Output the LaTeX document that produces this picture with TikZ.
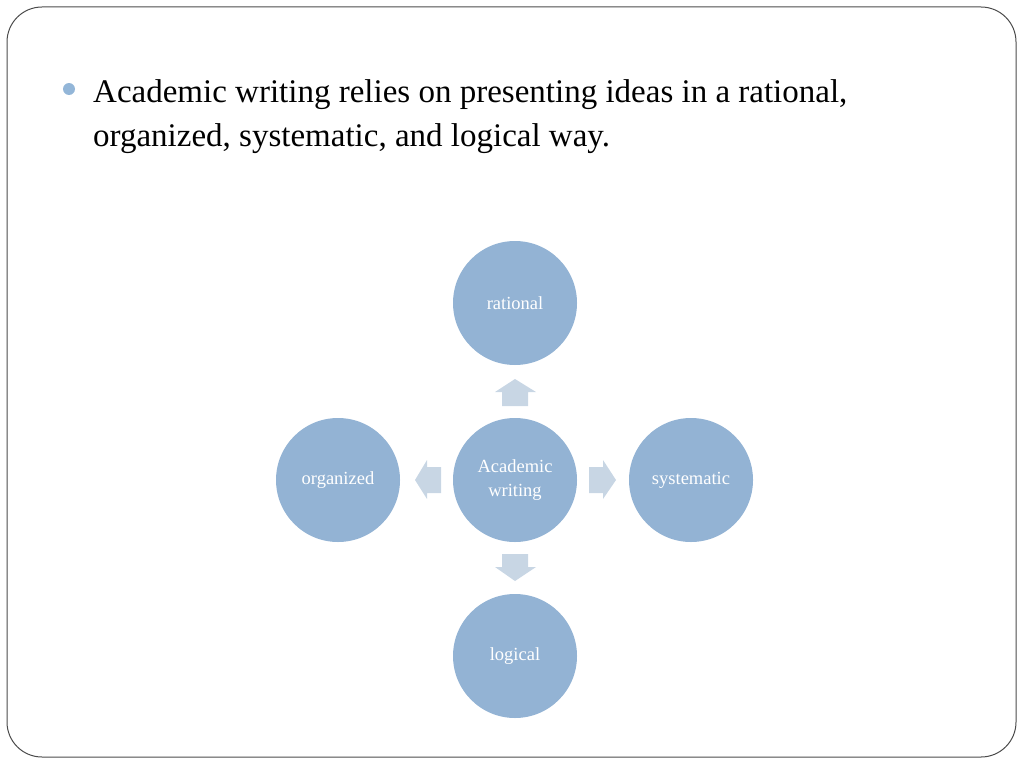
\documentclass[tikz,border=0pt]{standalone}
\usepackage{fontspec}
\setmainfont{Liberation Serif}
\begin{document}
\begin{tikzpicture}[x=1pt,y=-1pt,
  circ/.style={circle,fill=circblue,minimum size=124pt,inner sep=0pt,text=white,font=\fontsize{18.5}{24}\selectfont,align=center},
  barrow/.style={fill=arrowblue,draw=none},
  bodytext/.style={anchor=base west,inner sep=0pt,font=\fontsize{33}{40}\selectfont,text=black}]
\definecolor{circblue}{HTML}{93B3D4}
\definecolor{arrowblue}{HTML}{C8D6E4}
\definecolor{bulletblue}{HTML}{93B6D8}
\useasboundingbox (0,0) rectangle (1024,768);
\draw[rounded corners=35pt,line width=1pt,color=black!70] (7,7) rectangle (1016,757);
\fill[bulletblue] (69,89) circle (6);
\node[bodytext] (l1) at (93,102) {Academic writing relies on presenting ideas in a rational,};
\node[bodytext] (l2) at (93,146) {organized, systematic, and logical way.};
\node[circ] (c) at (515,480) {Academic\\writing};
\node[circ] (r) at (515,303) {rational};
\node[circ] (o) at (338,480) {organized};
\node[circ] (s) at (691,480) {systematic};
\node[circ] (g) at (515,656) {logical};
% up arrow
\fill[barrow] (502,406) -- (502,392) -- (495,392) -- (515,379) -- (536,392) -- (528,392) -- (528,406) -- cycle;
% down arrow
\fill[barrow] (502,554) -- (502,567) -- (495,567) -- (515,581) -- (536,567) -- (528,567) -- (528,554) -- cycle;
% left arrow
\fill[barrow] (441,467) -- (427,467) -- (427,460) -- (415,480) -- (427,499) -- (427,493) -- (441,493) -- cycle;
% right arrow
\fill[barrow] (589,467) -- (603,467) -- (603,460) -- (616,480) -- (603,499) -- (603,493) -- (589,493) -- cycle;
\end{tikzpicture}
\end{document}
